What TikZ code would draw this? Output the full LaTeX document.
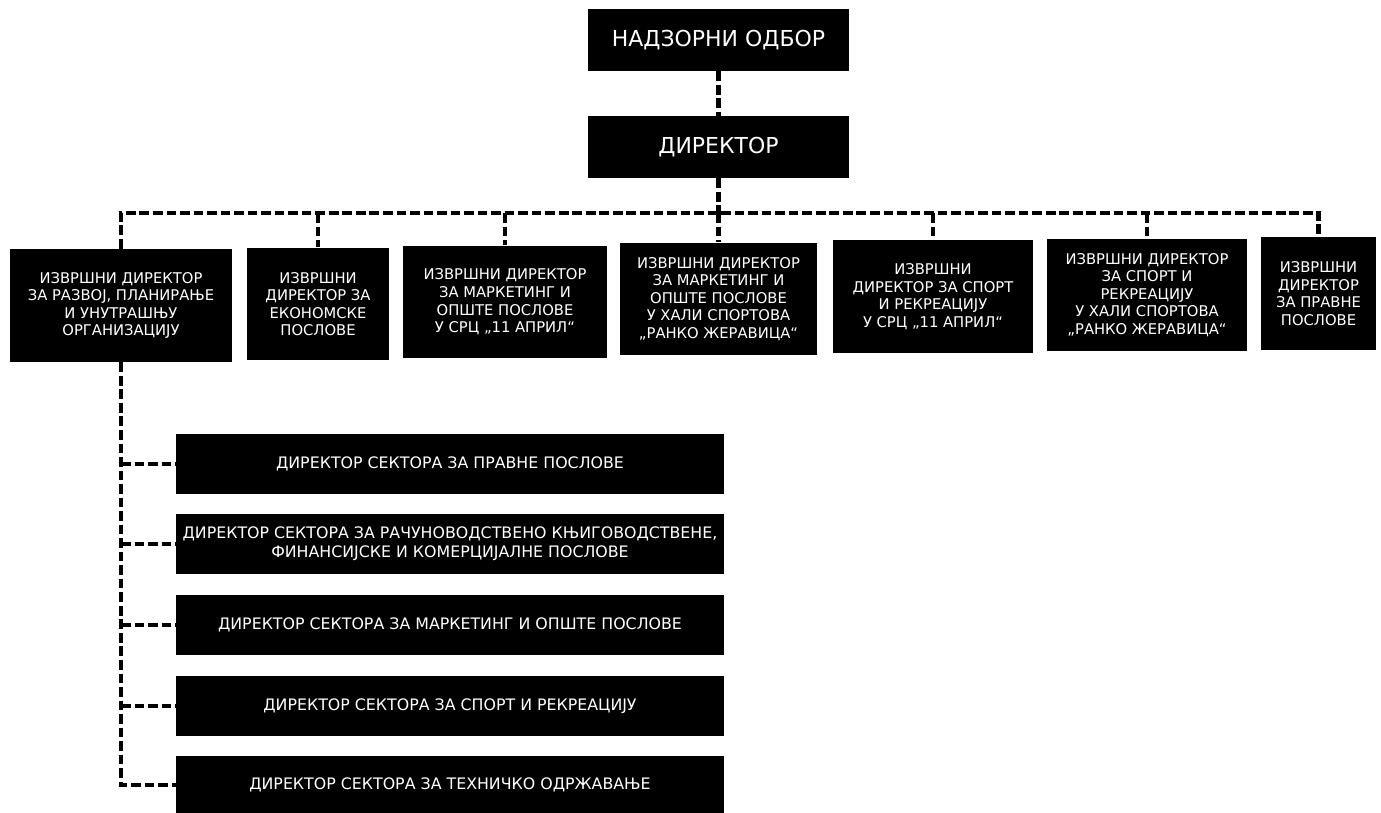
\documentclass[tikz,border=0pt]{standalone}
\usepackage{fontspec}
\setmainfont{DejaVu Sans}
\usepackage{tikz}
\usetikzlibrary{positioning}

\begin{document}
\begin{tikzpicture}[x=0.02cm, y=-0.02cm,
    topbox/.style={fill=black, text=white, inner sep=2pt, align=center,
        minimum width=5.22cm, minimum height=1.24cm, font=\fontsize{12.5}{14}\selectfont},
    rowbox/.style={fill=black, text=white, inner sep=2pt, align=center,
        minimum height=2.26cm, font=\fontsize{8.4}{10}\selectfont},
    secbox/.style={fill=black, text=white, inner sep=1pt, align=center,
        minimum width=10.96cm, minimum height=1.2cm, font=\fontsize{9}{11}\selectfont},
    link/.style={line width=2.8pt, dash pattern=on 5.5pt off 2.2pt}]
    \useasboundingbox (0,0) rectangle (1381,812);

    % Top of the chart
    \node[topbox] (nadzor) at (718.5,40) {НАДЗОРНИ ОДБОР};
    \node[topbox] (direktor) at (718.5,147) {ДИРЕКТОР};

    % Executive directors
    \node[rowbox, minimum width=4.46cm] (r1) at (121,305.5) {ИЗВРШНИ ДИРЕКТОР\\ЗА РАЗВОЈ, ПЛАНИРАЊЕ\\И УНУТРАШЊУ\\ОРГАНИЗАЦИЈУ};
    \node[rowbox, minimum width=2.84cm] (r2) at (318,304) {ИЗВРШНИ\\ДИРЕКТОР ЗА\\ЕКОНОМСКЕ\\ПОСЛОВЕ};
    \node[rowbox, minimum width=4.08cm] (r3) at (505,302) {ИЗВРШНИ ДИРЕКТОР\\ЗА МАРКЕТИНГ И\\ОПШТЕ ПОСЛОВЕ\\У СРЦ „11 АПРИЛ“};
    \node[rowbox, minimum width=3.96cm] (r4) at (718.5,299) {ИЗВРШНИ ДИРЕКТОР\\ЗА МАРКЕТИНГ И\\ОПШТЕ ПОСЛОВЕ\\У ХАЛИ СПОРТОВА\\„РАНКО ЖЕРАВИЦА“};
    \node[rowbox, minimum width=4.0cm] (r5) at (933,296.5) {ИЗВРШНИ\\ДИРЕКТОР ЗА СПОРТ\\И РЕКРЕАЦИЈУ\\У СРЦ „11 АПРИЛ“};
    \node[rowbox, minimum width=4.0cm] (r6) at (1147,295) {ИЗВРШНИ ДИРЕКТОР\\ЗА СПОРТ И\\РЕКРЕАЦИЈУ\\У ХАЛИ СПОРТОВА\\„РАНКО ЖЕРАВИЦА“};
    \node[rowbox, minimum width=2.3cm] (r7) at (1318.5,293.5) {ИЗВРШНИ\\ДИРЕКТОР\\ЗА ПРАВНЕ\\ПОСЛОВЕ};

    % Sector directors
    \node[secbox] (s1) at (450,464) {ДИРЕКТОР СЕКТОРА ЗА ПРАВНЕ ПОСЛОВЕ};
    \node[secbox] (s2) at (450,544) {ДИРЕКТОР СЕКТОРА ЗА РАЧУНОВОДСТВЕНО КЊИГОВОДСТВЕНЕ,\\ФИНАНСИЈСКЕ И КОМЕРЦИЈАЛНЕ ПОСЛОВЕ};
    \node[secbox] (s3) at (450,625) {ДИРЕКТОР СЕКТОРА ЗА МАРКЕТИНГ И ОПШТЕ ПОСЛОВЕ};
    \node[secbox] (s4) at (450,706) {ДИРЕКТОР СЕКТОРА ЗА СПОРТ И РЕКРЕАЦИЈУ};
    \node[secbox, minimum height=1.16cm] (s5) at (450,785) {ДИРЕКТОР СЕКТОРА ЗА ТЕХНИЧКО ОДРЖАВАЊЕ};

    % Dashed links
    \coordinate (bus) at (0,213);
    \draw[link] (nadzor) -- (direktor);
    \draw[link] (direktor) -- (direktor |- bus);
    \draw[link] (r1.north) -- (r1.north |- bus) -- (r7.north |- bus) -- (r7.north);
    \foreach \r in {r2,r3,r4,r5,r6}
        \draw[link] (\r.north |- bus) -- (\r.north);
    \draw[link] (r1.south) |- (s5.west);
    \foreach \s in {s1,s2,s3,s4}
        \draw[link] (r1.south |- \s.west) -- (\s.west);

\end{tikzpicture}
\end{document}
